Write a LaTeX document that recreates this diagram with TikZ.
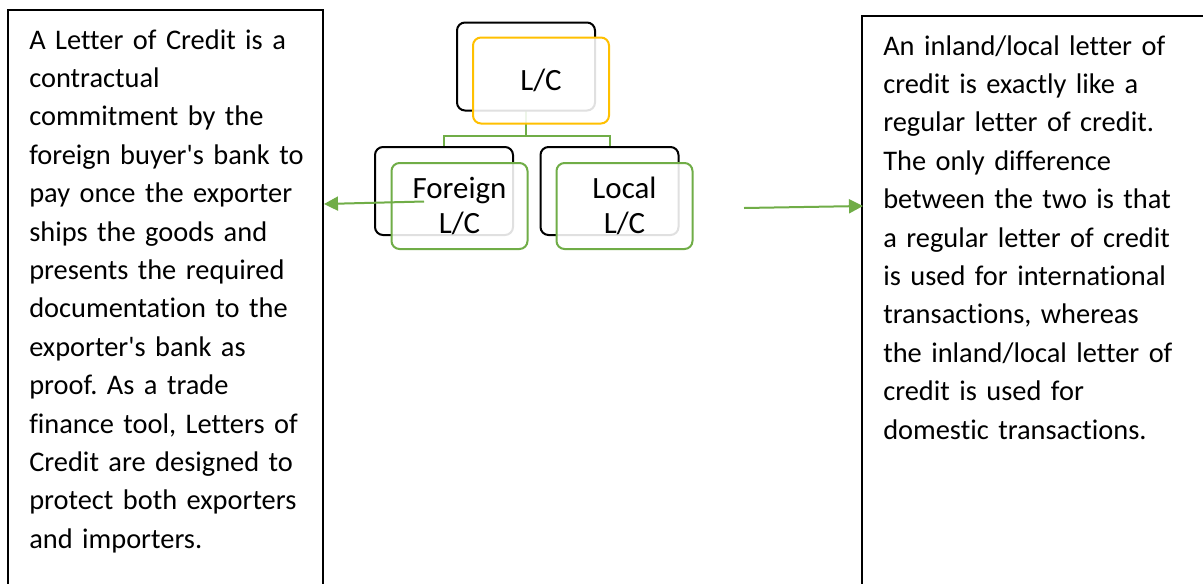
\documentclass[tikz,border=0pt]{standalone}
\usepackage{fontspec}
\setmainfont{Carlito}[Ligatures={TeXOff,NoCommon}]
\usetikzlibrary{arrows.meta}
\frenchspacing
\definecolor{lcyellow}{HTML}{FFC000}
\definecolor{lcgreen}{HTML}{70AD47}
\tikzset{
  frame/.style={draw=black, line width=1.5pt},
  bodytext/.style={inner sep=0pt, align=left, text width=300pt,
    font=\fontsize{21.3pt}{28.8pt}\selectfont},
  backbox/.style={draw=black, line width=1.5pt, rounded corners=6pt,
    minimum width=102pt, minimum height=64.5pt, inner sep=0pt},
  frontbox/.style={line width=1.5pt, rounded corners=6pt, fill=white, fill opacity=0.88,
    text opacity=1, minimum width=102pt, minimum height=64.5pt, inner sep=0pt,
    align=center, font=\fontsize{23.2pt}{26.25pt}\selectfont},
  conn/.style={draw=lcgreen, line width=1.5pt},
  arrowline/.style={draw=lcgreen, line width=1.5pt,
    -{Triangle[length=10.5pt,width=10.5pt]}, fill=lcgreen}
}
\begin{document}
\begin{tikzpicture}[x=0.75pt, y=-0.75pt]
\path[use as bounding box] (0,0) rectangle (1203,583);
\clip (0,0) rectangle (1203,583);
\path[fill=white] (0,0) rectangle (1203,583);

% text boxes
\draw[frame] (8,600) -- (8,10) -- (323,10) -- (323,600);
\node[bodytext, anchor=base west] (lefttext) at (29,49) {A Letter of Credit is a\\
contractual\\
commitment by the\\
foreign buyer's bank to\\
pay once the exporter\\
ships the goods and\\
presents the required\\
documentation to the\\
exporter's bank as\\
proof. As a trade\\
finance tool, Letters of\\
Credit are designed to\\
protect both exporters\\
and importers.};

\draw[frame] (862,600) -- (862,15.5) -- (1220,15.5);
\node[bodytext, anchor=base west] (righttext) at (883,55) {An inland/local letter of\\
credit is exactly like a\\
regular letter of credit.\\
The only difference\\
between the two is that\\
a regular letter of credit\\
is used for international\\
transactions, whereas\\
the inland/local letter of\\
credit is used for\\
domestic transactions.};

% hierarchy: back boxes coordinates
\coordinate (topbackc) at (526,66.5);
\coordinate (fbackc) at (444,191);
\coordinate (lbackc) at (609.5,191);

% connectors (drawn first, behind boxes)
\node[backbox, draw=none] (topback) at (topbackc) {};
\node[backbox, draw=none] (fback) at (fbackc) {};
\node[backbox, draw=none] (lback) at (lbackc) {};
\draw[conn] (topback.south) -- (topback.south |- 0,136) -| (fback.north);
\draw[conn] (topback.south |- 0,136) -| (lback.north);

% boxes
\draw[black, line width=1.5pt, rounded corners=6pt] (topback.south west) rectangle (topback.north east);
\draw[black, line width=1.5pt, rounded corners=6pt] (fback.south west) rectangle (fback.north east);
\draw[black, line width=1.5pt, rounded corners=6pt] (lback.south west) rectangle (lback.north east);

\node[frontbox, draw=lcyellow] (top) at (541,80.5) {L/C};
\node[frontbox, draw=lcgreen] (foreign) at (459.5,206) {Foreign\\L/C};
\node[frontbox, draw=lcgreen] (local) at (624.5,206) {Local\\L/C};

% arrows
\coordinate (fstart) at (424,201.5);
\coordinate (fend) at (324,204);
\coordinate (lstart) at (744,208);
\coordinate (lend) at (863,206);
\draw[arrowline] (fstart) -- (fend);
\draw[arrowline] (lstart) -- (lend);
\end{tikzpicture}
\end{document}
